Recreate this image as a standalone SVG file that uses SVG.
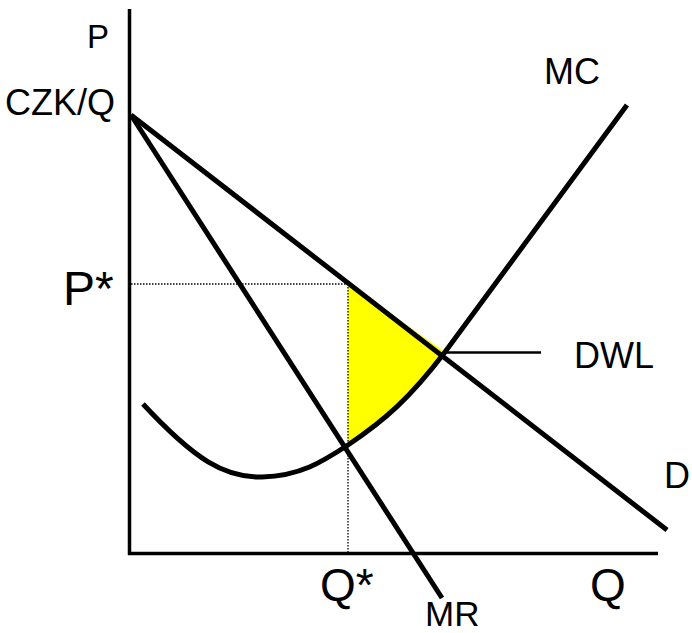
<svg xmlns="http://www.w3.org/2000/svg" width="692" height="633" viewBox="0 0 692 633">
<style>
.t{font-family:"Liberation Sans",Arial,sans-serif;fill:#000}
.curve{fill:none;stroke:#000;stroke-width:5;stroke-linecap:butt;stroke-linejoin:round}
.axis{fill:none;stroke:#000;stroke-width:3.5}
.dot{fill:none;stroke:#000;stroke-width:1.3;stroke-dasharray:1.5 1.5}
</style>
<rect width="692" height="633" fill="#fff"/>
<g id="dwl-area">
<path d="M348,284 L445,352 C410,398 385,420 348,445 Z" fill="#ffff00"/>
</g>
<g id="guides">
<line class="dot" x1="131" y1="284" x2="348" y2="284"/>
<line class="dot" x1="348" y1="284" x2="348" y2="553"/>
</g>
<g id="axes">
<line class="axis" x1="129.5" y1="9" x2="129.5" y2="555"/>
<line class="axis" x1="128" y1="553.5" x2="658" y2="553.5"/>
</g>
<g id="connectors">
<line id="D" class="curve" x1="131" y1="115" x2="667" y2="530"/>
<line id="MR" class="curve" x1="131" y1="115" x2="442" y2="598"/>
<path id="MC" class="curve" d="M143,404 C195,460 225,478 262,477 C300,476 322,462 348,445 C385,420 410,398 445,352 L627,105"/>
<line id="dwl-pointer" x1="445" y1="352.5" x2="541" y2="352.5" stroke="#000" stroke-width="2.5"/>
</g>
<g id="labels">
<text class="t" x="87" y="48" font-size="33">P</text>
<text class="t" x="5" y="115" font-size="36">CZK/Q</text>
<text class="t" x="63" y="305" font-size="48">P*</text>
<text class="t" x="544" y="84" font-size="36">MC</text>
<text class="t" x="574" y="368" font-size="36">DWL</text>
<text class="t" x="664" y="488" font-size="36">D</text>
<text class="t" x="320" y="601" font-size="46">Q*</text>
<text class="t" x="590" y="601" font-size="46">Q</text>
<text class="t" x="425" y="626" font-size="35">MR</text>
</g>
</svg>
